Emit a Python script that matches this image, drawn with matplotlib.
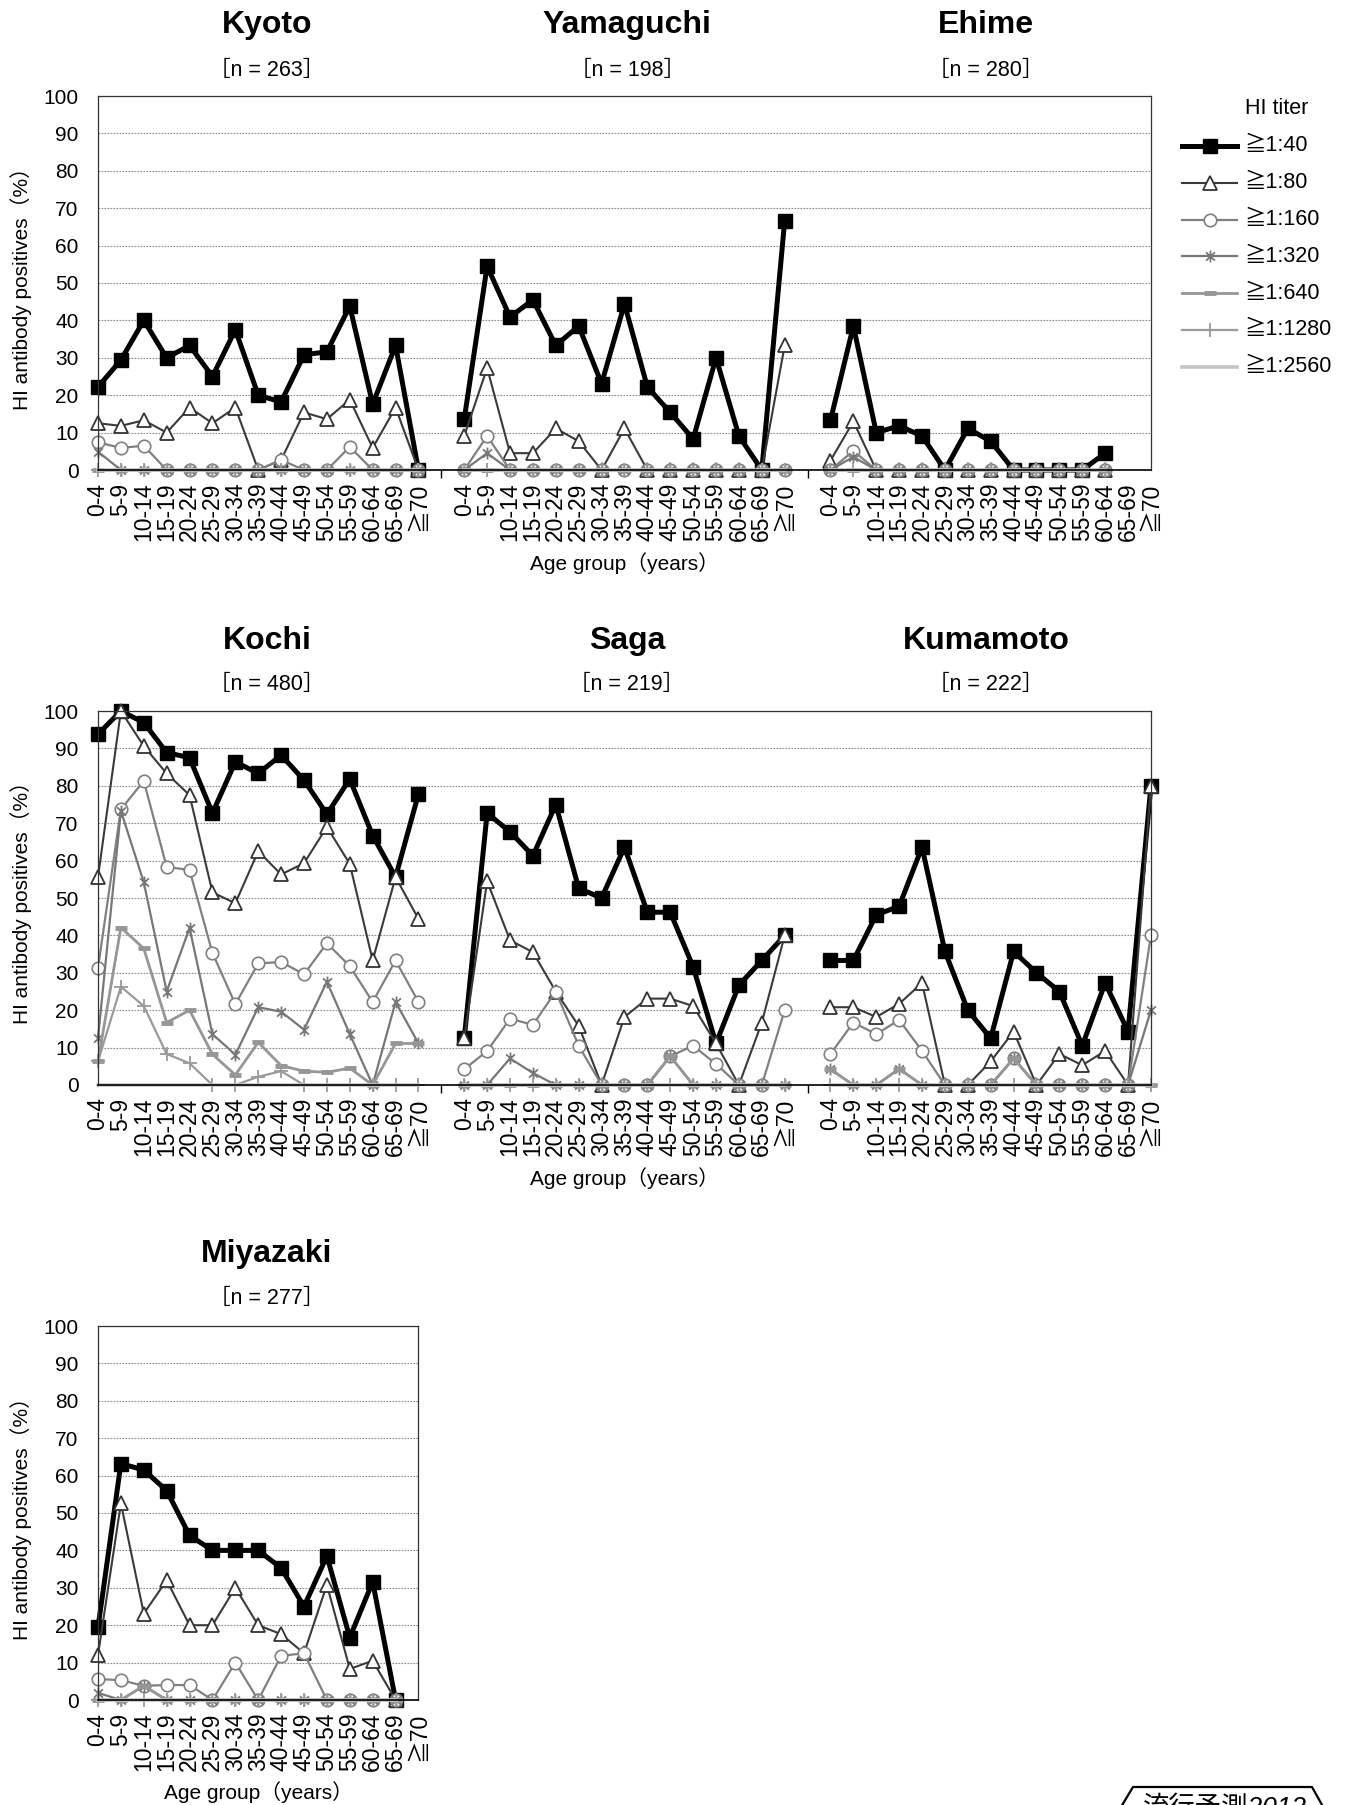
import numpy as np
import matplotlib
matplotlib.use('Agg')
import matplotlib.pyplot as plt
from matplotlib.lines import Line2D
from matplotlib.path import Path

plt.rcParams['font.family'] = ['Liberation Sans', 'Noto Sans CJK JP']

W, H = 1351, 1805

ages = ['0-4', '5-9', '10-14', '15-19', '20-24', '25-29', '30-34', '35-39',
        '40-44', '45-49', '50-54', '55-59', '60-64', '65-69', '≧70']
titers = ['≧1:40', '≧1:80', '≧1:160', '≧1:320', '≧1:640', '≧1:1280', '≧1:2560']

nan = np.nan
z = [0] * 15

# rows: ≧1:40, ≧1:80, ... ≧1:2560 (%)
kyoto = [
    [22.2, 29.4, 40.0, 30.0, 33.3, 25.0, 37.5, 20.0, 18.2, 30.8, 31.6, 43.8, 17.6, 33.3, 0],
    [12.5, 11.8, 13.3, 10.0, 16.7, 12.5, 16.7, 0, 2.7, 15.4, 13.6, 18.8, 5.9, 16.7, 0],
    [7.4, 5.9, 6.5, 0, 0, 0, 0, 0, 2.7, 0, 0, 6.2, 0, 0, 0],
    [4.9, 0, 0, 0, 0, 0, 0, 0, 0, 0, 0, 0, 0, 0, 0],
    z, z, z]
yamaguchi = [
    [13.6, 54.5, 40.9, 45.5, 33.3, 38.5, 23.1, 44.4, 22.2, 15.4, 8.3, 30.0, 9.1, 0, 66.7],
    [9.1, 27.3, 4.5, 4.5, 11.1, 7.7, 0, 11.1, 0, 0, 0, 0, 0, 0, 33.3],
    [0, 9.1, 0, 0, 0, 0, 0, 0, 0, 0, 0, 0, 0, 0, 0],
    [0, 4.5, 0, 0, 0, 0, 0, 0, 0, 0, 0, 0, 0, 0, 0],
    z, z, z]
ehime = [
    [13.3, 38.5, 10.0, 11.8, 9.1, 0, 11.1, 7.7, 0, 0, 0, 0, 4.5, nan, nan],
    [2.5, 13.0, 0, 0, 0, 0, 0, 0, 0, 0, 0, 0, 0, nan, nan],
    [0, 5.1, 0, 0, 0, 0, 0, 0, 0, 0, 0, 0, 0, nan, nan],
    [0, 3.5, 0, 0, 0, 0, 0, 0, 0, 0, 0, 0, 0, nan, nan],
    [0, 0, 0, 0, 0, 0, 0, 0, 0, 0, 0, 0, 0, nan, nan],
    [0, 0, 0, 0, 0, 0, 0, 0, 0, 0, 0, 0, 0, nan, nan],
    [0, 0, 0, 0, 0, 0, 0, 0, 0, 0, 0, 0, 0, nan, nan]]
kochi = [
    [93.8, 100, 96.9, 88.9, 87.5, 72.7, 86.4, 83.3, 88.2, 81.5, 72.4, 81.8, 66.7, 55.6, 77.8],
    [55.6, 100, 90.6, 83.3, 77.5, 51.5, 48.6, 62.5, 56.3, 59.3, 69.0, 59.1, 33.3, 55.6, 44.4],
    [31.3, 73.7, 81.3, 58.3, 57.5, 35.3, 21.6, 32.5, 32.9, 29.6, 37.9, 31.8, 22.2, 33.3, 22.2],
    [12.5, 73.3, 54.2, 25.0, 42.0, 13.6, 8.1, 20.8, 19.6, 14.8, 27.6, 13.6, 0, 22.2, 11.1],
    [6.3, 42.1, 36.5, 16.7, 20.0, 8.2, 2.7, 11.4, 5.2, 3.7, 3.4, 4.5, 0, 11.1, 11.1],
    [6.3, 26.3, 21.1, 8.3, 5.8, 0, 0, 2.2, 3.7, 0, 0, 0, 0, 0, 0],
    z]
saga = [
    [12.5, 72.7, 67.7, 61.3, 75.0, 52.6, 50.0, 63.6, 46.2, 46.2, 31.6, 11.1, 26.7, 33.3, 40.0],
    [12.5, 54.5, 38.7, 35.5, 25.0, 15.8, 0, 18.2, 23.1, 23.1, 21.1, 11.1, 0, 16.7, 40.0],
    [4.2, 9.1, 17.7, 16.1, 25.0, 10.5, 0, 0, 0, 7.7, 10.5, 5.6, 0, 0, 20.0],
    [0, 0, 7.1, 3.2, 0, 0, 0, 0, 0, 7.7, 0, 0, 0, 0, 0],
    [0, 0, 0, 0, 0, 0, 0, 0, 0, 7.7, 0, 0, 0, 0, 0],
    z, z]
kumamoto = [
    [33.3, 33.3, 45.5, 47.8, 63.6, 35.7, 20.0, 12.5, 35.7, 30.0, 25.0, 10.5, 27.3, 14.3, 80.0],
    [20.8, 20.8, 18.2, 21.7, 27.3, 0, 0, 6.3, 14.3, 0, 8.3, 5.3, 9.1, 0, 80.0],
    [8.3, 16.7, 13.6, 17.4, 9.1, 0, 0, 0, 7.1, 0, 0, 0, 0, 0, 40.0],
    [4.2, 0, 0, 4.3, 0, 0, 0, 0, 7.1, 0, 0, 0, 0, 0, 20.0],
    [4.2, 0, 0, 4.3, 0, 0, 0, 0, 7.1, 0, 0, 0, 0, 0, 0],
    z, z]
miyazaki = [
    [19.4, 63.2, 61.5, 56.0, 44.0, 40.0, 40.0, 40.0, 35.3, 25.0, 38.5, 16.7, 31.6, 0, nan],
    [12.0, 52.6, 23.1, 32.0, 20.0, 20.0, 30.0, 20.0, 17.6, 12.5, 30.8, 8.3, 10.5, 0, nan],
    [5.6, 5.3, 3.8, 4.0, 4.0, 0, 10.0, 0, 11.8, 12.5, 0, 0, 0, 0, nan],
    [1.9, 0, 3.8, 0, 0, 0, 0, 0, 0, 0, 0, 0, 0, 0, nan],
    [0, 0, 3.8, 0, 0, 0, 0, 0, 0, 0, 0, 0, 0, 0, nan],
    [0, 0, 0, 0, 0, 0, 0, 0, 0, 0, 0, 0, 0, 0, nan],
    [0, 0, 0, 0, 0, 0, 0, 0, 0, 0, 0, 0, 0, 0, nan]]

rows = [
    [('Kyoto', 263, kyoto), ('Yamaguchi', 198, yamaguchi), ('Ehime', 280, ehime)],
    [('Kochi', 480, kochi), ('Saga', 219, saga), ('Kumamoto', 222, kumamoto)],
    [('Miyazaki', 277, miyazaki)],
]

# Excel風の「*」マーカー（縦線＋X）
star = Path([(0, -1), (0, 1), (-0.75, -0.7), (0.75, 0.7), (-0.75, 0.7), (0.75, -0.7)],
            [Path.MOVETO, Path.LINETO] * 3)

styles = [
    dict(color='black', lw=3.6, marker='s', ms=10, mfc='black', mec='black'),
    dict(color='#3a3a3a', lw=1.5, marker='^', ms=9.5, mfc='white', mec='#333333', mew=1.3),
    dict(color='#808080', lw=1.6, marker='o', ms=9, mfc='white', mec='#808080', mew=1.2),
    dict(color='#777777', lw=1.6, marker=star, ms=8.5, mec='#777777', mew=1.3),
    dict(color='#969696', lw=2.0, marker='_', ms=8.5, mec='#969696', mew=3.5),
    dict(color='#9a9a9a', lw=1.6, marker='+', ms=9.5, mec='#9a9a9a', mew=1.3),
    dict(color='#c4c4c4', lw=2.6, marker=None),
]

fig = plt.figure(figsize=(W / 100, H / 100), dpi=100)


def px_axes(left, top, right, bottom):
    return fig.add_axes([left / W, 1 - bottom / H, (right - left) / W, (bottom - top) / H])


def ftext(x, y, s, **kw):
    fig.text(x / W, 1 - y / H, s, ha='center', va='center', **kw)


step = 16
row_boxes = [(96, 470), (711, 1085), (1326, 1700)]
title_y = [(25, 70), (641, 684), (1254, 1298)]
xlabel_y = [563, 1178, 1792]
title_x = [267, 627, 986]

for r, prefs in enumerate(rows):
    top, bottom = row_boxes[r]
    npref = len(prefs)
    xmax = step * (npref - 1) + 14
    right = 98 + xmax * 22.89
    ax = px_axes(98, top, right, bottom)

    for k, (name, n, data) in enumerate(prefs):
        xs = np.arange(15) + step * k
        for vals, st in zip(data, styles):
            ax.plot(xs, np.array(vals, dtype=float), clip_on=False, **st)
        ftext(title_x[k], title_y[r][0], name, fontsize=23, fontweight='bold')
        ftext(title_x[k], title_y[r][1], '［n = %d］' % n, fontsize=15.5)

    ticks = [i + step * k for k in range(npref) for i in range(15)]
    ax.set_xticks(ticks)
    ax.set_xticklabels(ages * npref)
    if npref > 1:
        ax.set_xticks([step * k - 1 for k in range(1, npref)], minor=True)
    else:
        ax.set_xticks([14], minor=True)
    ax.set_xlim(0, xmax)
    ax.set_ylim(0, 100)
    ax.set_yticks(range(0, 101, 10))
    ax.tick_params(axis='y', length=0, pad=14, labelsize=15)
    ax.tick_params(axis='x', which='major', length=0, pad=9, labelsize=16.5, labelrotation=90)
    ax.tick_params(axis='x', which='minor', length=6, width=1, direction='out')
    ax.yaxis.grid(True, ls=(0, (1.5, 1.2)), color='#8c8c8c', lw=0.8)
    ax.set_axisbelow(True)
    for side in ['top', 'right', 'left']:
        ax.spines[side].set_color('#333333')
        ax.spines[side].set_linewidth(0.9)
    ax.spines['bottom'].set_color('black')
    ax.spines['bottom'].set_linewidth(1.2)

    fig.text(21 / W, 1 - (top + bottom) / 2 / H, 'HI antibody positives（%）',
             rotation=90, ha='center', va='center', fontsize=15)
    ftext((98 + right) / 2, xlabel_y[r], 'Age group（years）', fontsize=15)

# 凡例
ftext(1277, 108, 'HI titer', fontsize=15.5)
for i, (lab, st) in enumerate(zip(titers, styles)):
    y = 1 - (146 + i * 36.8) / H
    ln = Line2D(np.array([1182, 1210, 1237]) / W, [y, y, y], transform=fig.transFigure,
                markevery=[1], **st)
    fig.add_artist(ln)
    fig.text(1244 / W, y, lab, ha='left', va='center', fontsize=15.5)

# ロゴ
logo_x = np.array([1118, 1133, 1312, 1326]) / W
logo_y = 1 - np.array([1812, 1787, 1787, 1812]) / H
fig.add_artist(Line2D(logo_x, logo_y, transform=fig.transFigure, color='black', lw=1.6))
fig.text(1143 / W, 1 - 1795 / H, '流行予測2012', ha='left', va='top', fontsize=19,
         style='italic')

fig.savefig('out.png', dpi=100)
